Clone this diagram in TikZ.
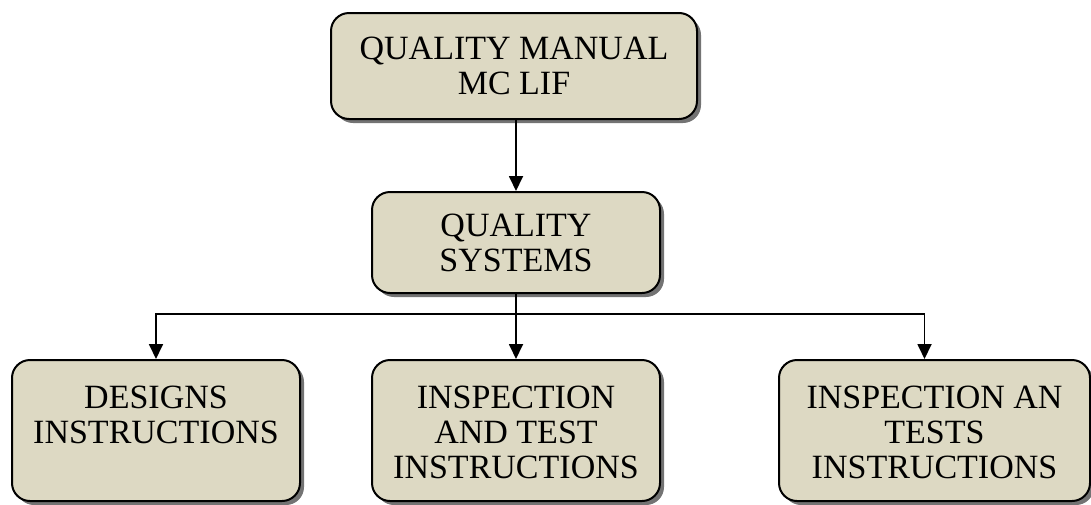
\documentclass[tikz,border=0pt]{standalone}
\usepackage{fontspec}
\setmainfont{Liberation Serif}
\usetikzlibrary{arrows.meta, shadows}

\definecolor{boxtan}{RGB}{221,217,195}

\newcommand{\toptext}[2]{\parbox[c][141pt][t]{#1}{\centering\vspace{26pt}#2}}

\tikzset{
	docbox/.style = {draw, line width = 2pt, fill = boxtan, rounded corners = 18pt, inner sep = 0pt,
		drop shadow = {shadow xshift = 4pt, shadow yshift = -4pt, fill = black!55, opacity = 1}},
}

\begin{document}
\begin{tikzpicture}[font = \fontsize{34}{35}\selectfont]

	\useasboundingbox (0, 0) rectangle (1091pt, -504pt);

	% Manual and quality systems
	
	\node [docbox, minimum width = 366pt, minimum height = 106pt, align = center] (manual) at (514pt, -66pt) {QUALITY MANUAL\\MC LIF};
	\node [docbox, minimum width = 288pt, minimum height = 101pt, align = center] (systems) at (516pt, -242.5pt) {QUALITY\\SYSTEMS};
	
	% Instruction boxes
	
	\node [docbox] (designs) at (156pt, -430.5pt) {\toptext{288pt}{DESIGNS\\INSTRUCTIONS}};
	\node [docbox] (inspect) at (516pt, -430.5pt) {\toptext{288pt}{INSPECTION\\AND TEST\\INSTRUCTIONS}};
	\node [docbox] (tests) at (934.5pt, -430.5pt) {\toptext{311pt}{INSPECTION AN\\TESTS\\INSTRUCTIONS}};
	
	% Connectors
	
	\begin{scope}[-{Triangle[length = 15pt, width = 14pt]}, line width = 1.8pt]
	
		\draw (systems.north |- manual.south) -- (systems.north);
		
		\draw [-] (systems.south) -- ++(0, -20pt) coordinate (branch);
		\draw (branch) -| (designs.north);
		\draw (branch) -- (inspect.north);
		\draw (branch) -| ([xshift = -10pt] tests.north);

	\end{scope}

\end{tikzpicture}
\end{document}
